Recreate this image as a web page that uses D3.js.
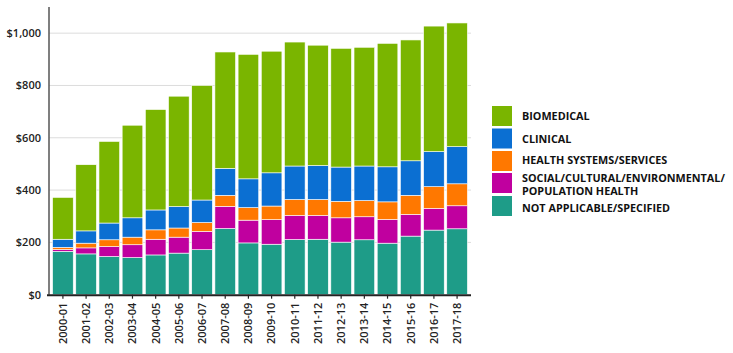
<!DOCTYPE html>
<html><head><meta charset="utf-8">
<script src="https://cdn.jsdelivr.net/npm/d3@7"></script>
<style>body{margin:0;background:#fff}svg{display:block}text{font-family:"Open Sans",sans-serif}</style>
</head><body><svg id="c" width="733" height="353"></svg>
<script>
const years = ["2000-01","2001-02","2002-03","2003-04","2004-05","2005-06","2006-07","2007-08","2008-09","2009-10","2010-11","2011-12","2012-13","2013-14","2014-15","2015-16","2016-17","2017-18"];
const notApplicable = [166,156,146,142,152,159,172,253,198,193,211,212,201,210,197,224,247,252];
const social = [7,23,38,49,60,61,70,85,87,94,92,91,93,88,91,83,83,88];
const healthSystems = [8,18,26,29,36,35,34,42,48,52,61,61,63,62,67,73,83,84];
const clinical = [31,47,64,74,76,82,86,103,110,127,128,130,131,132,134,132,134,142];
const biomedical = [160,253,312,354,384,422,438,445,476,465,474,460,454,454,472,462,480,473];
const seriesNames = ["NOT APPLICABLE/SPECIFIED","SOCIAL/CULTURAL/ENVIRONMENTAL/POPULATION HEALTH","HEALTH SYSTEMS/SERVICES","CLINICAL","BIOMEDICAL"];
const colors = ["#1e9c88","#c0009f","#ff7800","#0b6fd2","#7ab500"];
const yTicks = [0,200,400,600,800,1000];

const seriesVals = [notApplicable, social, healthSystems, clinical, biomedical];
const rows = years.map((y,i)=>{const r={year:y}; seriesNames.forEach((s,k)=>r[s]=seriesVals[k][i]); return r;});
const stack = d3.stack().keys(seriesNames)(rows);

const svg = d3.select("#c");
const x = d3.scaleBand().domain(years).range([49,471]).paddingInner(0.11).paddingOuter(0.155);
const y = d3.scaleLinear().domain([0,1100]).range([294.7,7]);

// gridlines
svg.append("g").selectAll("line").data(yTicks.filter(d=>d>0)).join("line")
  .attr("x1",49).attr("x2",471).attr("y1",d=>y(d)).attr("y2",d=>y(d))
  .attr("stroke","#dcdcdc").attr("stroke-width",1);

// bars
svg.append("g").selectAll("g").data(stack).join("g").attr("fill",(d,i)=>colors[i])
  .selectAll("rect").data(d=>d).join("rect")
  .attr("x",d=>x(d.data.year)).attr("width",x.bandwidth())
  .attr("y",d=>y(d[1])).attr("height",d=>y(d[0])-y(d[1]))
  .attr("stroke","#fff").attr("stroke-width",0.6);

// y axis
const ya = svg.append("g").attr("transform","translate(49,0)")
  .call(d3.axisLeft(y).tickValues(yTicks).tickSize(0).tickPadding(8).tickFormat(d=>"$"+d3.format(",")(d)));
ya.select(".domain").remove();
ya.append("line").attr("x1",0).attr("x2",0).attr("y1",7).attr("y2",294.7).attr("stroke","#555").attr("stroke-width",1.5);
ya.selectAll("text").attr("font-size",11).attr("font-weight",600).attr("fill","#222");

// x axis
const xa = svg.append("g").attr("transform","translate(0,294.7)")
  .call(d3.axisBottom(x).tickSize(4).tickPadding(4));
xa.select(".domain").remove();
xa.append("line").attr("x1",47).attr("x2",471).attr("y1",0.5).attr("y2",0.5).attr("stroke","#222").attr("stroke-width",2);
xa.selectAll(".tick line").attr("stroke","#222").attr("stroke-width",1.2);
xa.selectAll("text").attr("font-size",11).attr("font-weight",600).attr("fill","#222")
  .attr("transform","rotate(-90)").attr("text-anchor","end").attr("dx","0").attr("dy","0.35em").attr("y",0).attr("x",-8);

// legend
const legendOrder = [4,3,2,1,0];
const swY = [106,128.5,151,173,196];
const lg = svg.append("g");
legendOrder.forEach((k,j)=>{
  lg.append("rect").attr("x",492).attr("y",swY[j]).attr("width",20).attr("height",20).attr("fill",colors[k]);
});
const labY = [[120],[142.5],[164],[181.5,195],[211.5]];
const labs = [["BIOMEDICAL"],["CLINICAL"],["HEALTH SYSTEMS/SERVICES"],["SOCIAL/CULTURAL/ENVIRONMENTAL/","POPULATION HEALTH"],["NOT APPLICABLE/SPECIFIED"]];
labs.forEach((ls,j)=>ls.forEach((t,m)=>{
  lg.append("text").attr("x",522).attr("y",labY[j][m]).text(t)
    .attr("font-size",10.8).attr("font-weight",700).attr("fill","#111");
}));
</script></body></html>
